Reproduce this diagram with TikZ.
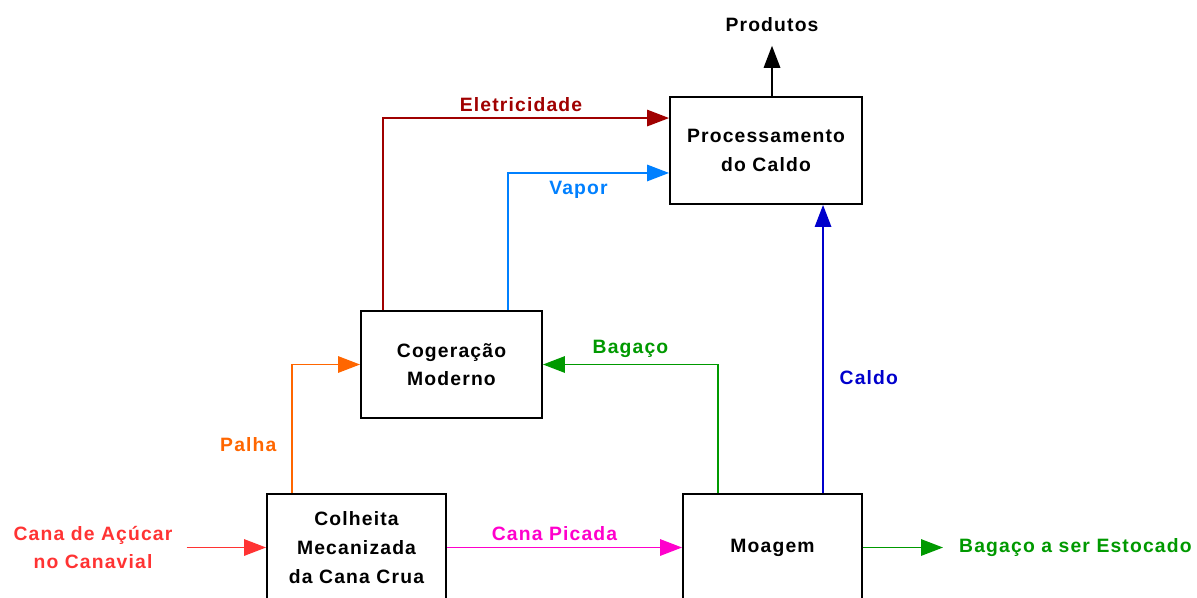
\documentclass[tikz,border=0pt]{standalone}
\usepackage{fontspec}
\setmainfont{Liberation Sans}[LetterSpace=6]
\usetikzlibrary{arrows.meta}
\definecolor{eletr}{RGB}{160,0,0}
\definecolor{vapor}{RGB}{0,128,255}
\definecolor{palha}{RGB}{255,102,0}
\definecolor{bagaco}{RGB}{0,153,0}
\definecolor{caldo}{RGB}{0,0,204}
\definecolor{cana}{RGB}{255,51,51}
\definecolor{picada}{RGB}{255,0,204}
\begin{document}
\begin{tikzpicture}[
    bloco/.style={rectangle, draw, line width=1.1pt, minimum width=3.6cm, minimum height=2.14cm, align=center, font=\fontsize{11}{16.3}\selectfont\bfseries},
    rotulo/.style={font=\fontsize{11}{16.3}\selectfont\bfseries, align=center},
    fluxo/.style={line width=0.85pt, -{Triangle[length=4.4mm, width=3.3mm]}}
]
\clip (0,0) rectangle (23.94,-11.94);

% Blocos
\node[bloco, minimum width=3.84cm] (proc) at (15.32, -3.01) {Processamento\\do Caldo};
\node[bloco, minimum width=3.62cm] (cog) at (9.03, -7.29) {Cogeração\\Moderno};
\node[bloco, minimum width=3.58cm] (colh) at (7.13, -10.95) {Colheita\\Mecanizada\\da Cana Crua};
\node[bloco, minimum width=3.58cm] (moag) at (15.45, -10.95) {Moagem};

% Entradas e saídas
\node[rotulo] (prod) at (15.44, -0.5) {Produtos};
\node[rotulo, text=cana] (cana) at (1.86, -10.95) {Cana de Açúcar\\no Canavial};
\node[rotulo, text=bagaco, anchor=west] (estoc) at (19.06, -10.95) {Bagaço a ser Estocado};

% Fluxos
\draw[fluxo, shorten >=1.5mm] (proc.north -| prod) -- (prod);
\draw[fluxo, eletr] ([xshift=4.6mm]cog.north west) |- ([yshift=-4.4mm]proc.north west)
    node[rotulo, pos=0.75, above, xshift=-1mm] {Eletricidade};
\draw[fluxo, vapor] ([xshift=29.6mm]cog.north west) |- ([yshift=6.4mm]proc.south west)
    node[rotulo, pos=0.75, below=1pt, xshift=-2mm] {Vapor};
\draw[fluxo, palha] ([xshift=5.2mm]colh.north west) |- (cog.west)
    node[rotulo, pos=0.19, left=1.8mm] {Palha};
\draw[fluxo, bagaco] ([xshift=7.2mm]moag.north west) |- (cog.east)
    node[rotulo, pos=0.75, above] {Bagaço};
\draw[fluxo, caldo] ([xshift=28.2mm]moag.north west) coordinate (c0) -- (c0 |- proc.south)
    node[rotulo, pos=0.4, right=2mm] {Caldo};
\draw[fluxo, cana, shorten <=1.6mm] (cana.east) -- (colh.west);
\draw[fluxo, picada] (colh.east) -- (moag.west)
    node[rotulo, midway, above, xshift=-2mm] {Cana Picada};
\draw[fluxo, bagaco, shorten >=2mm] (moag.east) -- (estoc.west);
\end{tikzpicture}
\end{document}
